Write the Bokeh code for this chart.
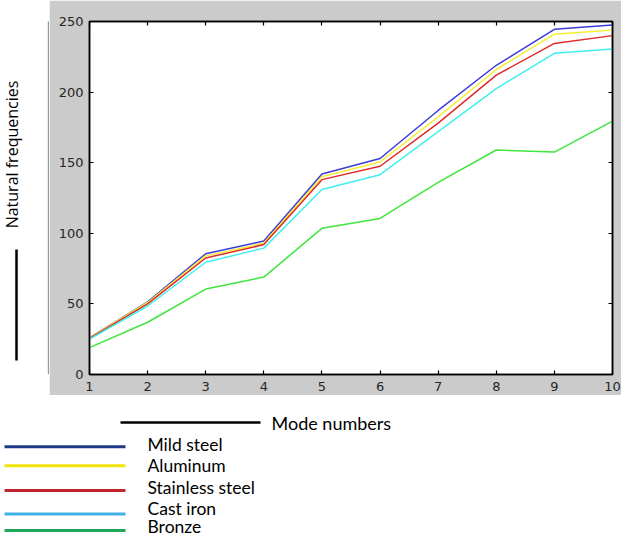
from bokeh.plotting import figure
from bokeh.layouts import column, row
from bokeh.models import Range1d, LinearAxis, FixedTicker, BoxAnnotation
from bokeh.core.properties import value
from bokeh.embed import file_html
from bokeh.resources import INLINE
import math

# ---------------- data ----------------
modes = [1, 2, 3, 4, 5, 6, 7, 8, 9, 10]
mild_steel = [26, 51.5, 85.5, 94.5, 142, 153, 187, 219, 244.5, 247.5]
aluminum = [26, 51, 84, 93, 140, 150.5, 182.5, 216, 241, 244]
stainless_steel = [25.5, 50, 82.5, 92, 138, 147.5, 178, 212, 234.5, 240]
cast_iron = [25, 48.5, 79.5, 89.5, 131, 141.5, 172, 202.5, 227.5, 230.5]
bronze = [19, 37, 60.5, 69, 103.5, 110.5, 136, 159, 157.5, 179.5]

series_names = ["Mild steel", "Aluminum", "Stainless steel", "Cast iron", "Bronze"]
series_values = [mild_steel, aluminum, stainless_steel, cast_iron, bronze]
plot_colors = ["#3c3cdc", "#f4ee34", "#e02a2a", "#40efef", "#3fe63f"]
legend_colors = ["#1f3a86", "#f0e40a", "#c0272d", "#3fb2e6", "#22a55a"]

x_ticks = [1, 2, 3, 4, 5, 6, 7, 8, 9, 10]
y_ticks = [0, 50, 100, 150, 200, 250]
y_label = "Natural frequencies"
x_label = "Mode numbers"

GRAY = "#cbcbcb"
TICK_FONT = "DejaVu Sans"
TEXT_FONT = "Lato"

# ---------------- main plot ----------------
p = figure(width=572, height=395, output_backend="svg", toolbar_location=None,
           x_range=Range1d(1, 10), y_range=Range1d(0, 250),
           min_border_left=40, min_border_right=9, min_border_top=21, min_border_bottom=21)
p.border_fill_color = GRAY
p.background_fill_color = "white"
p.outline_line_color = "black"
p.outline_line_width = 1.5
p.grid.visible = False

for vals, col in zip(series_values, plot_colors):
    p.line(modes, vals, line_color=col, line_width=1.5)

def style_axis(ax, ticks, show_labels=True):
    ax.ticker = FixedTicker(ticks=ticks)
    ax.axis_line_color = "black"
    ax.axis_line_width = 1.5
    ax.major_tick_line_color = "black"
    ax.major_tick_line_width = 1.2
    ax.major_tick_in = 4
    ax.major_tick_out = 0
    ax.minor_tick_line_color = None
    if show_labels:
        ax.major_label_text_font = TICK_FONT
        ax.major_label_text_font_size = "13px"
        ax.major_label_text_color = "#262626"
    else:
        ax.major_label_text_font_size = "1px"
        ax.major_label_text_color = None
        ax.major_label_standoff = 0

style_axis(p.xaxis[0], x_ticks)
p.xaxis[0].major_label_standoff = 7
style_axis(p.yaxis[0], y_ticks)
p.yaxis[0].major_label_standoff = 6

top_ax = LinearAxis()
style_axis(top_ax, x_ticks, show_labels=False)
p.add_layout(top_ax, "above")
right_ax = LinearAxis()
style_axis(right_ax, y_ticks, show_labels=False)
p.add_layout(right_ax, "right")

# ---------------- left strip (y label) ----------------
# frame of this strip spans the same vertical extent as the main plot's frame
left = figure(width=49, height=395, output_backend="svg", toolbar_location=None,
              x_range=Range1d(0, 49), y_range=Range1d(0, 353),
              min_border_left=0, min_border_right=0, min_border_top=21, min_border_bottom=21)
left.axis.visible = False
left.grid.visible = False
left.outline_line_color = None
left.border_fill_color = "white"
left.background_fill_color = "white"
left.text(x=[11], y=[220], text=[y_label], angle=math.pi / 2,
          text_align="center", text_baseline="middle",
          text_font=value("Open Sans"), text_font_size="16px", text_color="black")
left.segment(x0=[16], y0=[14], x1=[16], y1=[125], line_color="black", line_width=2.5)
left.add_layout(BoxAnnotation(left=47.3, right=49, bottom=0, top=395,
                              left_units="screen", right_units="screen",
                              bottom_units="screen", top_units="screen",
                              fill_color="#9a9a9a", fill_alpha=1.0, line_color=None))

# ---------------- bottom strip (x label + legend) ----------------
bottom = figure(width=621, height=140, output_backend="svg", toolbar_location=None,
                x_range=Range1d(0, 621), y_range=Range1d(0, 140), min_border=0)
bottom.axis.visible = False
bottom.grid.visible = False
bottom.outline_line_color = None
bottom.border_fill_color = "white"
bottom.background_fill_color = "white"

bottom.segment(x0=[120], y0=[113], x1=[260], y1=[113], line_color="black", line_width=2.5)
bottom.text(x=[271], y=[112.5], text=[x_label], text_align="left", text_baseline="middle",
            text_font=value(TEXT_FONT), text_font_size="18px", text_color="black")

legend_line_y = [88.7, 69.7, 45, 21.5, 5]
legend_text_y = [91.5, 70.5, 48, 27, 9.5]
bottom.segment(x0=[4] * 5, y0=legend_line_y, x1=[125] * 5, y1=legend_line_y,
               line_color=legend_colors, line_width=3)
bottom.text(x=[147] * 5, y=legend_text_y, text=series_names, text_align="left",
            text_baseline="middle", text_font=value(TEXT_FONT),
            text_font_size="17.5px", text_color="black")

layout = column(row(left, p, spacing=0), bottom, spacing=0)

open("out.html", "w").write(file_html(layout, INLINE))
